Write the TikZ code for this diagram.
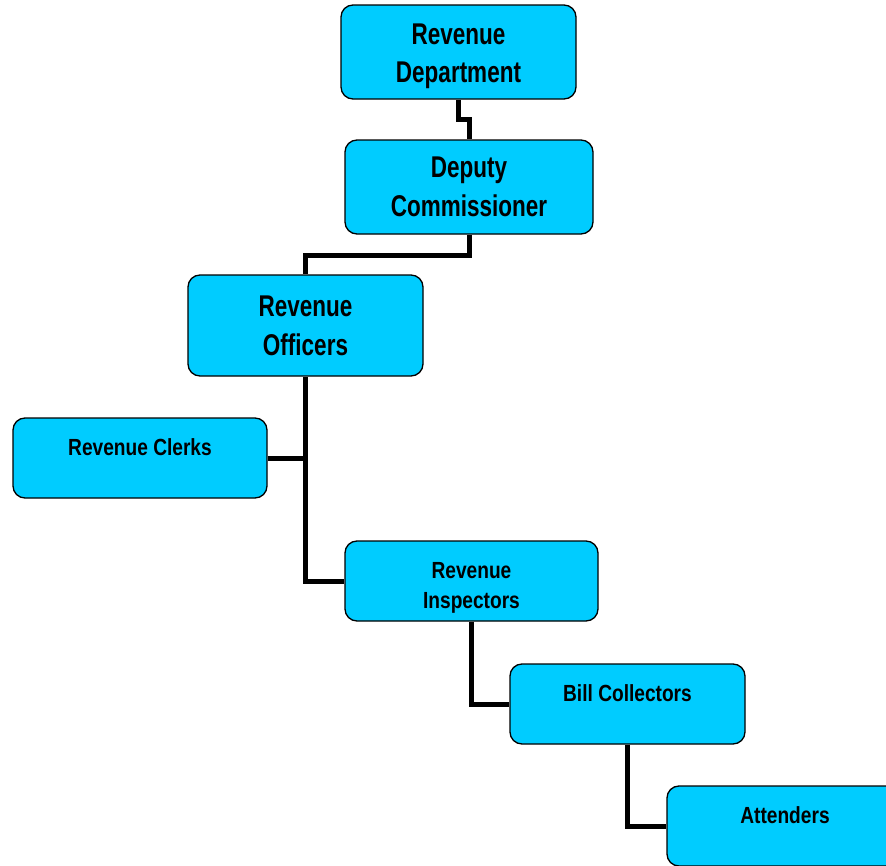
\documentclass[tikz,border=0pt]{standalone}
\usepackage{fontspec}
\usepackage{xcolor}
\newfontfamily\bigfont{Liberation Sans}[FakeStretch=0.75]
\newfontfamily\smallfont{Liberation Sans}[FakeStretch=0.82]
\definecolor{boxblue}{RGB}{0,204,255}
\tikzset{
    treenode/.style = {align=center, inner sep=0pt, text centered, rectangle, rounded corners=9pt, draw=black, fill=boxblue, line width=1pt},
    big_node/.style = {treenode, font=\bigfont\bfseries\fontsize{22.5}{29}\selectfont, minimum height=70.5pt},
    small_node/.style = {treenode, font=\smallfont\bfseries\fontsize{17.5}{22.5}\selectfont, minimum height=60pt},
    top_text/.style = {text depth=16.5pt},
    link/.style = {draw=black, line width=3.75pt}
}

\begin{document}
\begin{tikzpicture}
            [x=0.75pt, y=-0.75pt]

            \useasboundingbox (0,0) rectangle (886,865);

            \node [big_node, minimum width=176.25pt] (dept) at (458.5,52) {\rule{0pt}{22pt}Revenue\\Department};
            \node [big_node, minimum width=186pt] (deputy) at (469,187) {Deputy\\Commissioner};
            \node [big_node, minimum width=176.25pt, minimum height=75.75pt] (officers) at (305.5,325.5) {Revenue\\Officers};
            \node [small_node, top_text, minimum width=190.5pt] (clerks) at (140,458) {Revenue Clerks};
            \node [small_node, minimum width=189.75pt] (inspectors) at (471.5,581) {\rule{0pt}{23pt}Revenue\\Inspectors};
            \node [small_node, top_text, minimum width=176.25pt] (collectors) at (627.5,704) {Bill Collectors};
            \node [small_node, top_text, minimum width=177pt] (attenders) at (785,826) {Attenders};

            % connectors
            \draw [link] (dept.south) -- ++(0,20) -| (deputy.north);
            \draw [link] (deputy.south) -- ++(0,21) -| (officers.north);
            \draw [link] (officers.south) |- (inspectors.west);
            \draw [link] (clerks.east) -- (clerks.east -| officers.south);
            \draw [link] (inspectors.south) |- (collectors.west);
            \draw [link] (collectors.south) |- (attenders.west);
        \end{tikzpicture}
\end{document}
